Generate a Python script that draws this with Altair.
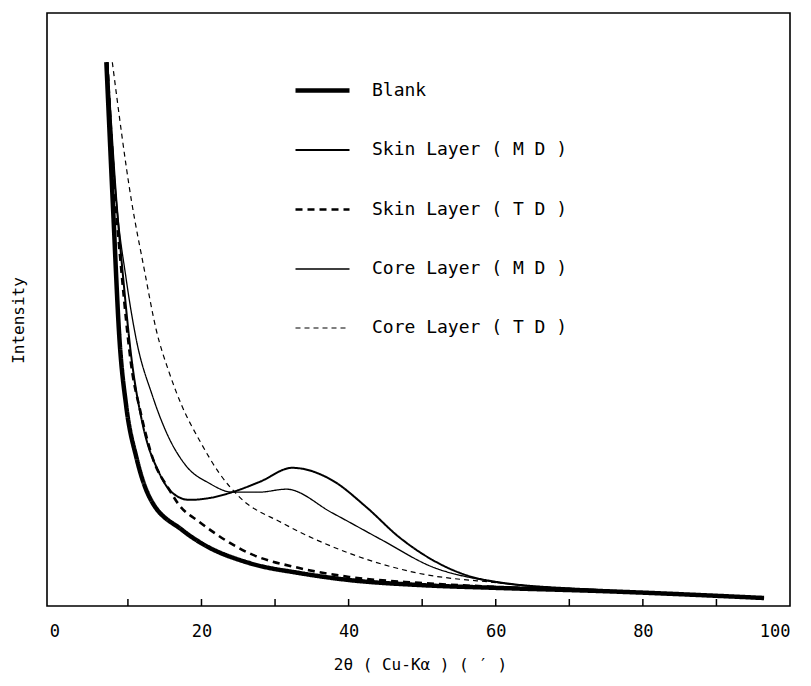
import altair as alt
import pandas as pd

# Series names, in legend order
series_names = [
    "Blank",
    "Skin Layer ( M D )",
    "Skin Layer ( T D )",
    "Core Layer ( M D )",
    "Core Layer ( T D )",
]

# Diffraction angle 2θ (deg) and relative intensity for each sample
blank_x = [7.07, 8.02, 8.83, 9.78, 11.14, 12.91, 17.39, 19.97, 26.49, 33.29, 40.08, 49.59, 60.46, 74.05, 96.47]
blank_y = [91.7, 66.0, 45.4, 33.6, 25.1, 18.4, 12.8, 10.6, 7.25, 5.56, 4.38, 3.54, 3.04, 2.53, 1.35]

skin_md_x = [7.2, 8.42, 9.38, 10.46, 11.96, 14.27, 16.03, 18.34, 21.06, 24.18, 27.85, 32.34, 37.77, 42.39, 46.88, 51.36, 55.98, 60.46, 74.05, 96.47]
skin_md_y = [91.7, 68.5, 55.0, 42.0, 30.9, 22.4, 19.1, 17.9, 18.2, 19.2, 20.9, 23.3, 21.2, 16.7, 11.6, 7.8, 5.2, 4.0, 2.7, 1.35]

skin_td_x = [7.2, 8.29, 9.10, 10.6, 11.55, 13.32, 15.63, 16.98, 19.7, 26.49, 33.29, 40.08, 49.59, 60.46, 74.05, 96.47]
skin_td_y = [91.7, 68.5, 56.7, 39.3, 33.6, 25.1, 19.6, 17.0, 14.2, 8.9, 6.4, 4.9, 3.9, 3.2, 2.53, 1.35]

core_md_x = [7.2, 8.42, 9.78, 11.14, 13.32, 15.22, 17.93, 21.06, 24.18, 27.85, 31.52, 37.77, 44.57, 51.36, 58.15, 60.46, 74.05, 96.47]
core_md_y = [91.7, 68.5, 55.0, 44.9, 35.5, 29.3, 23.6, 20.7, 19.2, 19.2, 19.7, 15.7, 11.1, 6.6, 4.4, 3.9, 2.7, 1.35]

core_td_x = [7.88, 10.46, 12.23, 13.86, 15.63, 17.39, 19.7, 22.42, 25.14, 30.98, 40.08, 49.18, 60.46, 74.05, 96.47]
core_td_y = [91.7, 68.5, 56.7, 46.5, 39.3, 33.6, 28.0, 22.4, 18.4, 14.0, 8.9, 5.6, 3.9, 2.53, 1.35]

# Axis ticks and labels
minor_ticks = [10, 20, 30, 40, 50, 60, 70, 80, 90]
label_values = [0, 20, 40, 60, 80, 100]

series_xy = [
    (blank_x, blank_y),
    (skin_md_x, skin_md_y),
    (skin_td_x, skin_td_y),
    (core_md_x, core_md_y),
    (core_td_x, core_td_y),
]

rows = []
for name, (xs, ys) in zip(series_names, series_xy):
    for i, (xv, yv) in enumerate(zip(xs, ys)):
        rows.append({"series": name, "angle": xv, "intensity": yv, "order": i})
df = pd.DataFrame(rows)

W, H = 743, 593
FONT = "DejaVu Sans Mono"

x_scale = alt.Scale(domain=[-1, 100], nice=False, zero=False)
y_scale = alt.Scale(domain=[0, 100], nice=False, zero=False)


def key_legend():
    return alt.Legend(
        title=None,
        orient="none",
        legendX=246,
        legendY=48,
        symbolType="stroke",
        symbolSize=2916,
        symbolStrokeColor="black",
        labelFont=FONT,
        labelFontSize=18,
        labelColor="black",
        labelOffset=20,
        labelLimit=400,
        rowPadding=22,
    )


curves = alt.Chart(df).mark_line(interpolate="monotone", strokeCap="butt").encode(
    x=alt.X(
        "angle:Q",
        scale=x_scale,
        axis=alt.Axis(
            values=label_values,
            ticks=False,
            domain=False,
            grid=False,
            labelFont=FONT,
            labelFontSize=17,
            labelColor="black",
            labelPadding=17,
            title="2θ ( Cu-Kα ) ( ′ )",
            titleFont=FONT,
            titleFontSize=16,
            titleFontWeight="normal",
            titleColor="black",
            titleX=373,
            titleY=58,
            titleBaseline="middle",
        ),
    ),
    y=alt.Y(
        "intensity:Q",
        scale=y_scale,
        axis=alt.Axis(
            ticks=False,
            labels=False,
            domain=False,
            grid=False,
            title="Intensity",
            titleFont=FONT,
            titleFontSize=16,
            titleFontWeight="normal",
            titleColor="black",
            titleAngle=270,
            titleX=-29,
            titleY=307,
            titleAlign="center",
            titleBaseline="middle",
        ),
    ),
    detail="series:N",
    order="order:Q",
    color=alt.Color(
        "series:N",
        scale=alt.Scale(domain=series_names, range=["black"] * 5),
        legend=key_legend(),
    ),
    strokeDash=alt.StrokeDash(
        "series:N",
        scale=alt.Scale(domain=series_names, range=[[1, 0], [1, 0], [7, 5], [1, 0], [5, 4]]),
        legend=key_legend(),
    ),
    strokeWidth=alt.StrokeWidth(
        "series:N",
        scale=alt.Scale(type="ordinal", domain=series_names, range=[4.5, 2.0, 2.6, 1.3, 1.2]),
        legend=key_legend(),
    ),
)

# Inward tick marks along the bottom edge
tick_df = pd.DataFrame({"angle": minor_ticks})
ticks = alt.Chart(tick_df).mark_rule(color="black", strokeWidth=1.5).encode(
    x=alt.X("angle:Q", scale=x_scale),
    y=alt.value(H),
    y2=alt.value(H - 7),
)

chart = (
    alt.layer(curves, ticks)
    .properties(
        width=W,
        height=H,
        autosize=alt.AutoSizeParams(type="none"),
        padding={"left": 47, "top": 13, "right": 21, "bottom": 80},
    )
    .configure_view(stroke="black", strokeWidth=1.6)
)

chart.save("out.html", embed_options={"renderer": "svg", "actions": False})
